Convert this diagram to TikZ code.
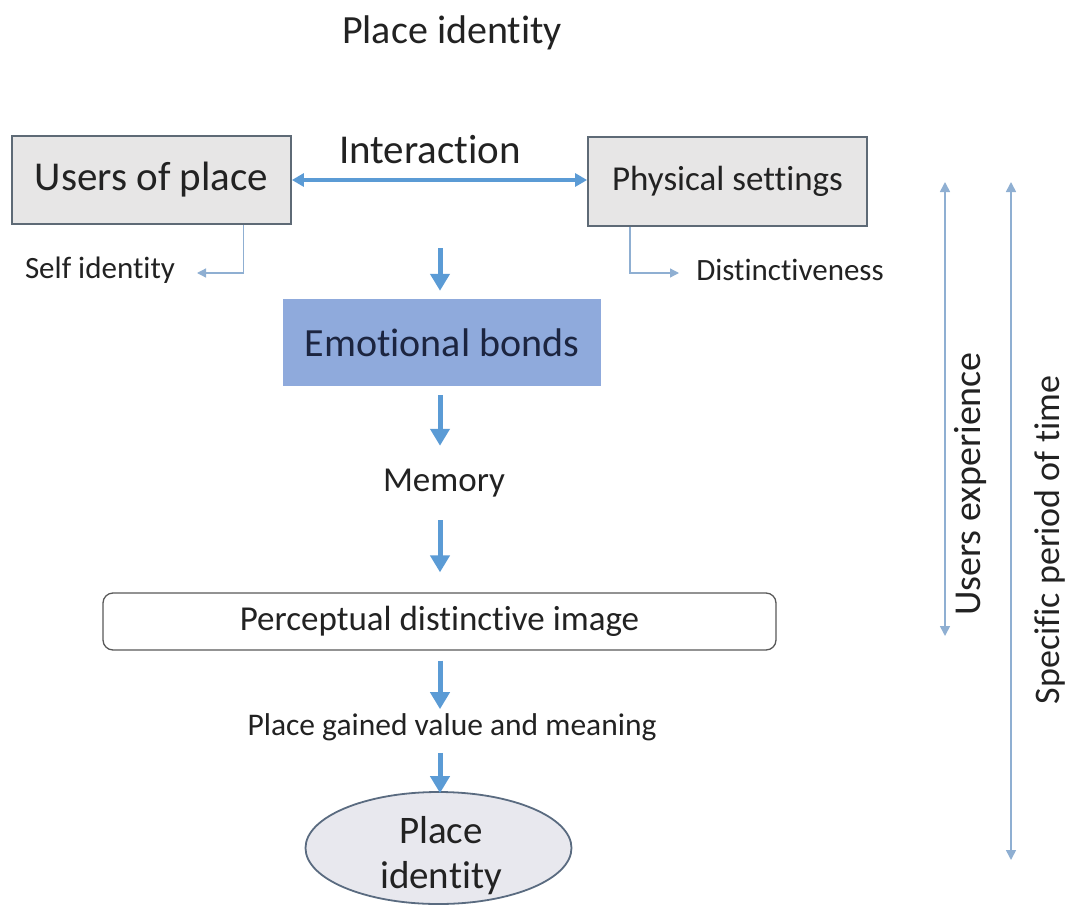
\documentclass[tikz,border=0pt]{standalone}
\usepackage{fontspec}
\setmainfont{Carlito}[Ligatures=NoCommon]
\usetikzlibrary{arrows.meta,shapes.geometric}
\definecolor{flowblue}{HTML}{5B9BD5}
\definecolor{thinblue}{HTML}{8FAFD2}
\definecolor{boxgray}{HTML}{E7E6E6}
\definecolor{boxline}{HTML}{5E6A76}
\definecolor{bondblue}{HTML}{8FAADC}
\definecolor{bondtext}{HTML}{1C2540}
\definecolor{inktext}{HTML}{222222}
\definecolor{ovalfill}{HTML}{E8E8EE}
\definecolor{ovalline}{HTML}{5A6B80}
\newcommand{\fsz}[2]{\fontsize{#1}{#2}\selectfont}
\tikzset{
  every node/.style={text=inktext},
  graybox/.style={draw=boxline, line width=1.8pt, fill=boxgray, inner sep=0pt},
  bondbox/.style={fill=bondblue, inner sep=0pt, text=bondtext},
  roundbox/.style={draw=gray!70!black, line width=1.3pt, rounded corners=10pt, fill=white, inner sep=0pt},
  ovalnode/.style={ellipse, draw=ovalline, line width=1.8pt, fill=ovalfill, inner sep=0pt},
  flow/.style={draw=flowblue, line width=5pt, -{Triangle[width=19pt,length=17pt]}},
  interarrow/.style={draw=flowblue, line width=4pt, {Triangle[width=13pt,length=12pt]}-{Triangle[width=13pt,length=12pt]}},
  thinarrow/.style={draw=thinblue, line width=1.3pt, -{Triangle[width=9pt,length=9pt]}},
  thinboth/.style={draw=thinblue, line width=1.6pt, {Triangle[width=10pt,length=10pt]}-{Triangle[width=10pt,length=10pt]}},
  plain/.style={inner sep=0pt}
}
\begin{document}
\begin{tikzpicture}[x=1pt,y=-1pt]
\useasboundingbox (0,0) rectangle (1071,905);

% title
\node[plain, font=\fsz{40}{48}] (title) at (452,33) {Place identity};

% top row
\node[graybox, minimum width=279pt, minimum height=88pt, font=\fsz{41}{49}] (users) at (151.5,180) {Users of place};
\node[graybox, minimum width=279pt, minimum height=89pt, font=\fsz{35}{42}] (phys) at (727.5,181.5) {Physical settings};
\node[plain, font=\fsz{41}{49}] (inter) at (430,150) {Interaction};
\draw[interarrow] (users.east) -- (users.east -| phys.west);

% side branches
\node[plain, font=\fsz{31}{37}] (selfid) at (100,270) {Self identity};
\node[plain, font=\fsz{31}{37}] (dist) at (790,270) {Distinctiveness};
\coordinate (selfend) at (197,273);
\coordinate (distend) at (679,273);
\draw[thinarrow] ([xshift=92pt]users.south) |- (selfend);
\draw[thinarrow] ([xshift=-97.5pt]phys.south) |- (distend);

% central chain (yshift is in page direction: positive moves up)
\coordinate (col) at (440,0);
\coordinate (flowtop) at (440,248);
\node[bondbox, minimum width=318pt, minimum height=87pt, font=\fsz{40}{48}] (emo) at (442,342.5) {Emotional bonds};
\node[plain, font=\fsz{35}{42}] (memory) at (444,483) {Memory};
\node[roundbox, minimum width=673pt, minimum height=57pt, font=\fsz{35}{42}] (perc) at (439.5,621.5) {Perceptual distinctive image};
\node[plain, font=\fsz{31.5}{38}] (gained) at (452,727) {Place gained value and meaning};
\node[ovalnode, minimum width=266pt, minimum height=112pt] (ident) at (438.5,848) {};
\node[plain, font=\fsz{39}{45}, align=center] (identtxt) at (441,856) {Place\\identity};

\draw[flow] (flowtop) -- ([yshift=8pt]flowtop |- emo.north);
\draw[flow] ([yshift=-9pt]emo.south -| col) -- ([yshift=23pt]memory.north -| col);
\draw[flow] ([yshift=-23pt]memory.south -| col) -- ([yshift=20pt]perc.north -| col);
\draw[flow] ([yshift=-10pt]perc.south -| col) -- ([yshift=4pt]gained.north -| col);
\draw[flow] ([yshift=-12pt]gained.south -| col) -- ([yshift=-2pt]ident.north -| col);

% time spans on the right
\coordinate (ueTop) at (945,182);
\coordinate (ueBot) at (945,636);
\coordinate (spTop) at (1011,182);
\coordinate (spBot) at (1011,860);
\draw[thinboth] (ueTop) -- (ueBot);
\draw[thinboth] (spTop) -- (spBot);
\node[plain, font=\fsz{38}{45}, rotate=90] (uexp) at (970,484) {Users experience};
\node[plain, font=\fsz{36}{43}, rotate=90] (speriod) at (1050,540) {Specific period of time};
\end{tikzpicture}
\end{document}
